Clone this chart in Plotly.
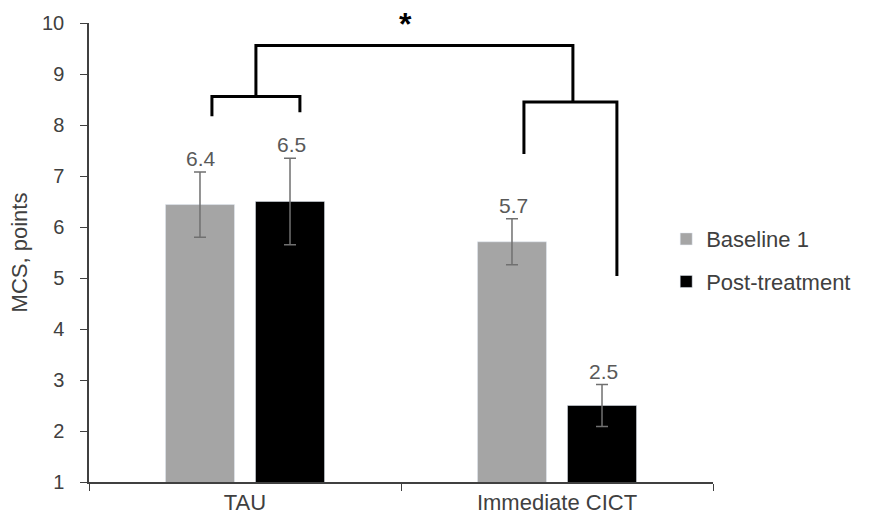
import plotly.graph_objects as go

categories = ["TAU", "Immediate CICT"]
baseline = [6.44, 5.71]
baseline_err = [0.64, 0.45]
post = [6.50, 2.50]
post_err = [0.85, 0.41]
baseline_labels = ["6.4", "5.7"]
post_labels = ["6.5", "2.5"]

# significance bracket geometry (data coords: x category index, y MCS points)
left_bracket_x = [-0.106, -0.106, 0.176, 0.176]
left_bracket_y = [8.17, 8.56, 8.56, 8.25]
right_bracket_x = [0.894, 0.894, 1.192, 1.192]
right_bracket_y = [7.43, 8.45, 8.45, 5.04]
top_bracket_x = [0.035, 0.035, 1.051, 1.051]
top_bracket_y = [8.56, 9.56, 9.56, 8.45]
star_pos = (0.516, 9.58)

FONT = "Liberation Sans, Arial, sans-serif"
TXT = "#404040"

fig = go.Figure()
fig.add_trace(go.Bar(
    name="Baseline 1", x=categories, y=baseline, marker_color="#a5a5a5",
    error_y=dict(type="data", array=baseline_err, color="#707070", thickness=1.5, width=6),
    legendgroup="a",
))
fig.add_trace(go.Bar(
    name="Post-treatment", x=categories, y=post, marker_color="#000000",
    error_y=dict(type="data", array=post_err, color="#707070", thickness=1.5, width=6),
    legendgroup="b",
))

for bx, by in [(left_bracket_x, left_bracket_y), (right_bracket_x, right_bracket_y), (top_bracket_x, top_bracket_y)]:
    fig.add_trace(go.Scatter(x=bx, y=by, mode="lines", line=dict(color="black", width=3),
                             xaxis="x2", yaxis="y", showlegend=False, hoverinfo="skip"))

annotations = []
for i, c in enumerate(categories):
    annotations.append(dict(x=c, y=baseline[i] + baseline_err[i], text=baseline_labels[i],
                            xref="x", yref="y", xshift=-44, yshift=0, yanchor="bottom",
                            showarrow=False, font=dict(family=FONT, size=21, color="#595959")))
    annotations.append(dict(x=c, y=post[i] + post_err[i], text=post_labels[i],
                            xref="x", yref="y", xshift=46, yshift=0, yanchor="bottom",
                            showarrow=False, font=dict(family=FONT, size=21, color="#595959")))
annotations.append(dict(x=star_pos[0], y=star_pos[1], text="<b>*</b>", xref="x2", yref="y",
                        yanchor="bottom", showarrow=False,
                        font=dict(family=FONT, size=32, color="black")))

fig.update_layout(
    width=870, height=527,
    margin=dict(l=89, r=157, t=19, b=43),
    plot_bgcolor="white", paper_bgcolor="white",
    barmode="group", bargap=0.423, bargroupgap=0.233,
    font=dict(family=FONT, size=20, color=TXT),
    xaxis=dict(type="category", showline=True, linecolor=TXT, linewidth=1.5,
               ticks="outside", tickson="boundaries", ticklen=7, tickcolor=TXT,
               tickfont=dict(size=22, color=TXT), showgrid=False, zeroline=False),
    xaxis2=dict(overlaying="x", range=[-0.5, 1.5], visible=False),
    yaxis=dict(range=[1, 10], dtick=1, tick0=1, showline=True, linecolor=TXT, linewidth=1.5,
               ticks="outside", ticklen=7, tickcolor=TXT, showgrid=False, zeroline=False,
               tickfont=dict(size=20, color=TXT), ticklabelstandoff=12,
               title=dict(text="MCS, points", font=dict(size=22, color=TXT), standoff=8)),
    legend=dict(x=0.925, y=0.575, xanchor="left", yanchor="top", tracegroupgap=11,
                font=dict(family=FONT, size=22, color=TXT), itemwidth=30),
    annotations=annotations,
)

fig.write_html("out.html", config={"displayModeBar": False},
               post_script="document.body.style.margin='0px';document.body.style.overflow='hidden';")
